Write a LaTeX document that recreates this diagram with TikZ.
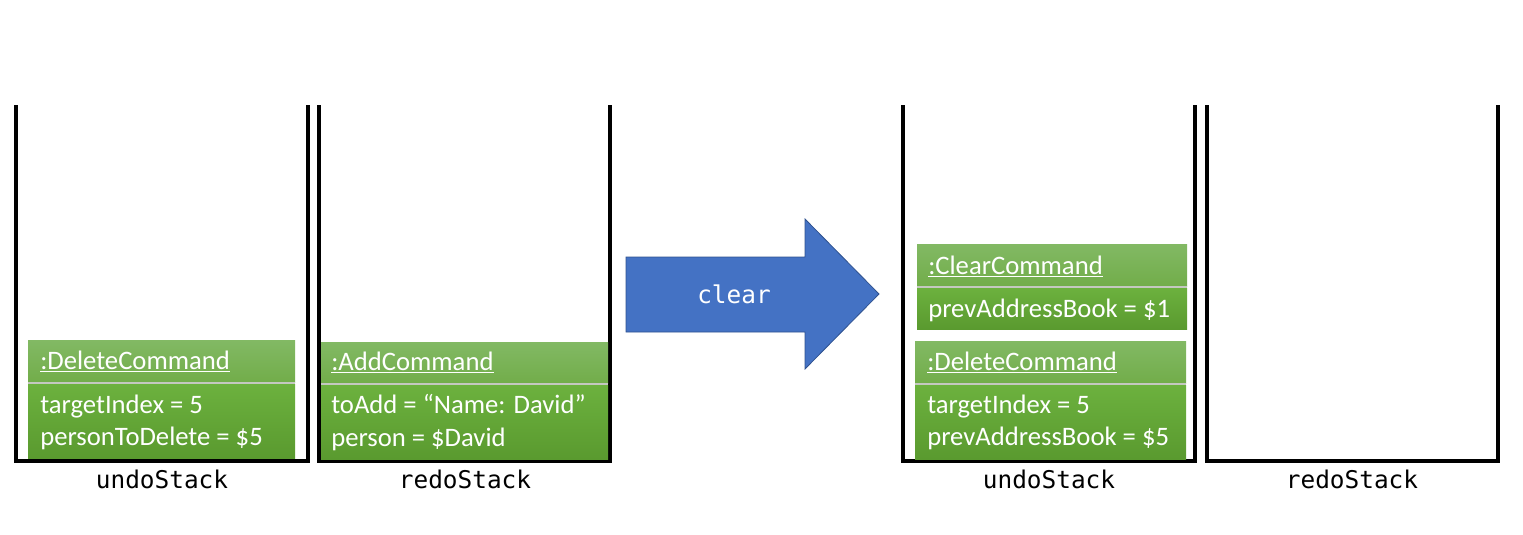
\documentclass[tikz,border=0pt]{standalone}
\usepackage{fontspec}
\setmainfont{Carlito}
\newfontfamily\monofont{DejaVu Sans Mono}
\definecolor{hdrtop}{HTML}{82B964}
\definecolor{hdrbot}{HTML}{72AD4A}
\definecolor{bodytop}{HTML}{6CB13E}
\definecolor{bodybot}{HTML}{5A9A2F}
\definecolor{divgray}{HTML}{C4C8C0}
\definecolor{arrowfill}{HTML}{4472C4}
\definecolor{arrowline}{HTML}{2F528F}
\begin{document}
\begin{tikzpicture}[x=0.75pt,y=-0.75pt,
  stackline/.style={line width=3pt, black, line join=miter},
  hdrbox/.style={top color=hdrtop, bottom color=hdrbot, draw=none},
  bodybox/.style={top color=bodytop, bottom color=bodybot, draw=none},
  divline/.style={draw=divgray, line width=1.2pt},
  lbl/.style={font=\monofont\fontsize{18.3}{22}\selectfont, anchor=base, inner sep=0pt},
  txt/.style={text=white, font=\fontsize{20}{24}\selectfont, anchor=base west, inner sep=0pt},
  bigarrow/.style={fill=arrowfill, draw=arrowline, line width=0.6pt, line join=miter}]
\useasboundingbox (0,0) rectangle (1523,535);
% stacks
\draw[stackline] (16,105) -- (16,461) -- (308,461) -- (308,105);
\draw[stackline] (319,105) -- (319,461) -- (610,461) -- (610,105);
\draw[stackline] (903,105) -- (903,461) -- (1195,461) -- (1195,105);
\draw[stackline] (1207,105) -- (1207,461) -- (1498,461) -- (1498,105);
\node[lbl] (l1) at (162,488) {undoStack};
\node[lbl] (l2) at (465,488) {redoStack};
\node[lbl] (l3) at (1049,488) {undoStack};
\node[lbl] (l4) at (1352,488) {redoStack};
% box 1
\path[hdrbox] (28,340) rectangle (295,382);
\path[bodybox] (28,384) rectangle (295,458);
\draw[divline] (28,383) -- (295,383);
\node[txt] (b1h) at (40,369) {\underline{:DeleteCommand}};
\node[txt] (b1a) at (40,413) {targetIndex = 5};
\node[txt] (b1b) at (40,445) {personToDelete = \$5};
% box 2
\path[hdrbox] (321,342) rectangle (608,383);
\path[bodybox] (321,385) rectangle (608,459);
\draw[divline] (321,384) -- (608,384);
\node[txt] (b2h) at (331,370) {\underline{:AddCommand}};
\node[txt] (b2a) at (331,413) {toAdd = “Name: David”};
\node[txt] (b2b) at (331,446) {person = \$David};
% box 3
\path[hdrbox] (917,244) rectangle (1187,286);
\path[bodybox] (917,288) rectangle (1187,329);
\draw[divline] (917,287) -- (1187,287);
\node[txt] (b3h) at (928,274) {\underline{:ClearCommand}};
\node[txt] (b3a) at (928,317) {prevAddressBook = \$1};
% box 4
\path[hdrbox] (915,341) rectangle (1186,383);
\path[bodybox] (915,385) rectangle (1186,459);
\draw[divline] (915,384) -- (1186,384);
\node[txt] (b4h) at (927,370) {\underline{:DeleteCommand}};
\node[txt] (b4a) at (927,413) {targetIndex = 5};
\node[txt] (b4b) at (927,445) {prevAddressBook = \$5};
% arrow
\draw[bigarrow] (626,257) -- (805,257) -- (805,219) -- (879,294) -- (805,369) -- (805,332) -- (626,332) -- cycle;
\node[lbl, text=white] (clr) at (734,303) {clear};
\end{tikzpicture}
\end{document}
